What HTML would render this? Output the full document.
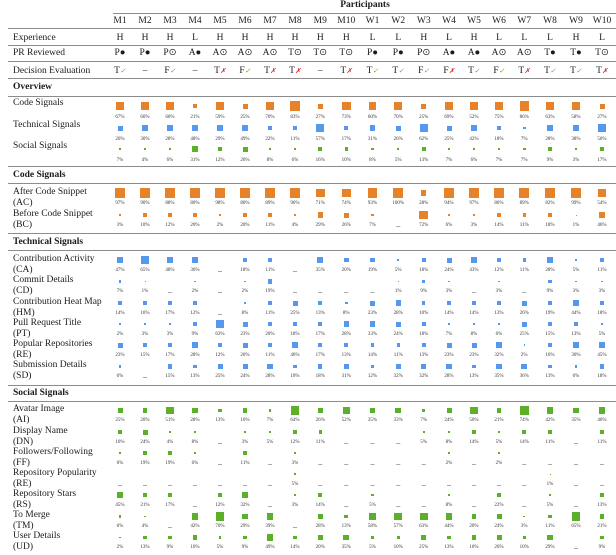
<!DOCTYPE html>
<html><head><meta charset="utf-8"><style>
body{margin:0;width:616px;height:555px;background:#fff;position:relative;overflow:hidden;font-family:"Liberation Serif",serif;color:#1a1a1a}
.h{position:absolute;height:1.3px;background:#8c8c8c;right:0;left:8px}
.r{position:absolute;left:0;width:616px;display:grid;grid-template-columns:107.5px repeat(8,25px) 25.5px 26.5px 26px 25.5px 25.5px 25px 25px 25px 25.5px 26px 26px 26px}
.s{height:14px;line-height:14px;font-size:9.5px;text-align:center}
.s>span:first-child{text-align:left;padding-left:13px}
.sec{position:absolute;left:13px;font-weight:bold;font-size:9.5px;line-height:14px}
.d>span{padding-left:13px;font-size:9.5px;line-height:11px;white-space:nowrap}
.d b{display:grid;grid-template-rows:13px 8px;justify-items:center;align-items:center;font-weight:normal;font-size:5px;line-height:8px;color:#333}
.d b:has(i:not([style])){font-size:8px;line-height:4px;padding-bottom:2px}
.d i{display:block;width:calc(var(--s,0px)*0.91);height:calc(var(--s,0px)*0.91)}
.o i{background:#e5822a}.bl i{background:#5599ee}.g i{background:#5daf2a}
.ov b{grid-template-rows:16px 8px}
.ck{color:#5daf2a;font-size:7px}.x{color:#e02020;font-size:7px}
</style></head><body>
<div style="position:absolute;left:0;width:616px;top:0;text-align:center;padding-left:114px;box-sizing:border-box;font-weight:bold;font-size:9.5px;line-height:11px">Participants</div>
<div class="h" style="top:13px;left:113px"></div>
<div class="r s" style="top:14px"><span></span><span>M1</span><span>M2</span><span>M3</span><span>M4</span><span>M5</span><span>M6</span><span>M7</span><span>M8</span><span>M9</span><span>M10</span><span>W1</span><span>W2</span><span>W3</span><span>W4</span><span>W5</span><span>W6</span><span>W7</span><span>W8</span><span>W9</span><span>W10</span></div>
<div class="h" style="top:28px"></div>
<div class="r s" style="top:31px"><span>Experience</span><span>H</span><span>H</span><span>H</span><span>L</span><span>H</span><span>H</span><span>H</span><span>H</span><span>H</span><span>H</span><span>L</span><span>L</span><span>H</span><span>L</span><span>H</span><span>L</span><span>L</span><span>L</span><span>H</span><span>L</span></div>
<div class="h" style="top:45px"></div>
<div class="r s" style="top:46px"><span>PR Reviewed</span><span>P●</span><span>P●</span><span>P⊙</span><span>A●</span><span>A⊙</span><span>A⊙</span><span>A⊙</span><span>T⊙</span><span>T⊙</span><span>T⊙</span><span>P●</span><span>P●</span><span>P⊙</span><span>A●</span><span>A●</span><span>A⊙</span><span>A⊙</span><span>T●</span><span>T●</span><span>T⊙</span></div>
<div class="h" style="top:61px"></div>
<div class="r s" style="top:64px"><span>Decision Evaluation</span><span>T<em class="ck">✓</em></span><span>–</span><span>F<em class="ck">✓</em></span><span>–</span><span>T<em class="x">✗</em></span><span>F<em class="ck">✓</em></span><span>T<em class="x">✗</em></span><span>T<em class="x">✗</em></span><span>–</span><span>T<em class="x">✗</em></span><span>T<em class="ck">✓</em></span><span>T<em class="ck">✓</em></span><span>F<em class="ck">✓</em></span><span>F<em class="x">✗</em></span><span>T<em class="ck">✓</em></span><span>F<em class="ck">✓</em></span><span>T<em class="x">✗</em></span><span>T<em class="ck">✓</em></span><span>T<em class="ck">✓</em></span><span>T<em class="x">✗</em></span></div>
<div class="h" style="top:78px"></div>
<div class="sec" style="top:80px">Overview</div>
<div class="h" style="top:96px"></div>

<div class="r d o ov" style="top:98px"><span>Code Signals</span><b><i style="--s:9px"></i>67%</b><b><i style="--s:9px"></i>66%</b><b><i style="--s:9px"></i>66%</b><b><i style="--s:5px"></i>21%</b><b><i style="--s:8.5px"></i>59%</b><b><i style="--s:5.5px"></i>25%</b><b><i style="--s:9px"></i>70%</b><b><i style="--s:10px"></i>83%</b><b><i style="--s:5.5px"></i>27%</b><b><i style="--s:9.5px"></i>73%</b><b><i style="--s:8.5px"></i>60%</b><b><i style="--s:9px"></i>70%</b><b><i style="--s:5.5px"></i>25%</b><b><i style="--s:9px"></i>69%</b><b><i style="--s:8px"></i>52%</b><b><i style="--s:9.5px"></i>75%</b><b><i style="--s:10px"></i>86%</b><b><i style="--s:8.5px"></i>63%</b><b><i style="--s:8.5px"></i>58%</b><b><i style="--s:5.5px"></i>27%</b></div>
<div class="r d bl ov" style="top:120px"><span>Technical Signals</span><b><i style="--s:5.5px"></i>26%</b><b><i style="--s:6px"></i>30%</b><b><i style="--s:6px"></i>28%</b><b><i style="--s:7.5px"></i>48%</b><b><i style="--s:6px"></i>29%</b><b><i style="--s:7.5px"></i>49%</b><b><i style="--s:5px"></i>22%</b><b><i style="--s:3.5px"></i>11%</b><b><i style="--s:8.5px"></i>57%</b><b><i style="--s:4.5px"></i>17%</b><b><i style="--s:6px"></i>31%</b><b><i style="--s:5.5px"></i>26%</b><b><i style="--s:8.5px"></i>62%</b><b><i style="--s:5.5px"></i>25%</b><b><i style="--s:7px"></i>42%</b><b><i style="--s:4.5px"></i>18%</b><b><i style="--s:3px"></i>7%</b><b><i style="--s:6px"></i>28%</b><b><i style="--s:7px"></i>38%</b><b><i style="--s:8px"></i>56%</b></div>
<div class="r d g ov" style="top:141px"><span>Social Signals</span><b><i style="--s:3px"></i>7%</b><b><i style="--s:2px"></i>4%</b><b><i style="--s:2.5px"></i>6%</b><b><i style="--s:6px"></i>31%</b><b><i style="--s:4px"></i>12%</b><b><i style="--s:5.5px"></i>26%</b><b><i style="--s:3px"></i>8%</b><b><i style="--s:2.5px"></i>6%</b><b><i style="--s:4.5px"></i>16%</b><b><i style="--s:3.5px"></i>10%</b><b><i style="--s:3px"></i>8%</b><b><i style="--s:2.5px"></i>5%</b><b><i style="--s:4px"></i>13%</b><b><i style="--s:3px"></i>7%</b><b><i style="--s:2.5px"></i>6%</b><b><i style="--s:3px"></i>7%</b><b><i style="--s:3px"></i>7%</b><b><i style="--s:3.5px"></i>9%</b><b><i style="--s:2px"></i>3%</b><b><i style="--s:4.5px"></i>17%</b></div>

<div class="h" style="top:166px"></div>
<div class="sec" style="top:168px">Code Signals</div>
<div class="h" style="top:183px"></div>
<div class="r d o" style="top:186.5px"><span>After Code Snippet<br>(AC)</span><b><i style="--s:11px"></i>97%</b><b><i style="--s:10.5px"></i>90%</b><b><i style="--s:10.5px"></i>88%</b><b><i style="--s:10px"></i>80%</b><b><i style="--s:11px"></i>98%</b><b><i style="--s:10px"></i>80%</b><b><i style="--s:10.5px"></i>89%</b><b><i style="--s:11px"></i>96%</b><b><i style="--s:9.5px"></i>71%</b><b><i style="--s:9.5px"></i>74%</b><b><i style="--s:10.5px"></i>93%</b><b><i style="--s:11px"></i>100%</b><b><i style="--s:6px"></i>28%</b><b><i style="--s:10.5px"></i>94%</b><b><i style="--s:11px"></i>97%</b><b><i style="--s:10px"></i>86%</b><b><i style="--s:10.5px"></i>89%</b><b><i style="--s:10px"></i>82%</b><b><i style="--s:11px"></i>99%</b><b><i style="--s:8px"></i>54%</b></div>
<div class="r d o" style="top:208.5px"><span>Before Code Snippet<br>(BC)</span><b><i style="--s:2px"></i>3%</b><b><i style="--s:3.5px"></i>10%</b><b><i style="--s:4px"></i>12%</b><b><i style="--s:5px"></i>20%</b><b><i style="--s:1.5px"></i>2%</b><b><i style="--s:5px"></i>20%</b><b><i style="--s:3.5px"></i>11%</b><b><i style="--s:2px"></i>4%</b><b><i style="--s:6px"></i>29%</b><b><i style="--s:5.5px"></i>26%</b><b><i style="--s:3px"></i>7%</b><b><i></i>–</b><b><i style="--s:9.5px"></i>72%</b><b><i style="--s:2.5px"></i>6%</b><b><i style="--s:2px"></i>3%</b><b><i style="--s:4px"></i>14%</b><b><i style="--s:3.5px"></i>11%</b><b><i style="--s:4.5px"></i>18%</b><b><i style="--s:1px"></i>1%</b><b><i style="--s:7.5px"></i>46%</b></div>

<div class="h" style="top:233px"></div>
<div class="sec" style="top:235px">Technical Signals</div>
<div class="h" style="top:250px"></div>
<div class="r d bl" style="top:253.5px"><span>Contribution Activity<br>(CA)</span><b><i style="--s:7.5px"></i>47%</b><b><i style="--s:9px"></i>65%</b><b><i style="--s:7.5px"></i>48%</b><b><i style="--s:6.5px"></i>36%</b><b><i></i>–</b><b><i style="--s:4.5px"></i>18%</b><b><i style="--s:3.5px"></i>11%</b><b><i></i>–</b><b><i style="--s:6.5px"></i>35%</b><b><i style="--s:5px"></i>20%</b><b><i style="--s:5px"></i>19%</b><b><i style="--s:2.5px"></i>5%</b><b><i style="--s:4.5px"></i>18%</b><b><i style="--s:5.5px"></i>24%</b><b><i style="--s:7px"></i>43%</b><b><i style="--s:4px"></i>12%</b><b><i style="--s:3.5px"></i>11%</b><b><i style="--s:6px"></i>28%</b><b><i style="--s:2.5px"></i>5%</b><b><i style="--s:3.5px"></i>11%</b></div>
<div class="r d bl" style="top:275px"><span>Commit Details<br>(CD)</span><b><i style="--s:3px"></i>7%</b><b><i style="--s:1px"></i>1%</b><b><i></i>–</b><b><i style="--s:1.5px"></i>2%</b><b><i></i>–</b><b><i style="--s:1.5px"></i>2%</b><b><i style="--s:5px"></i>19%</b><b><i></i>–</b><b><i></i>–</b><b><i></i>–</b><b><i></i>–</b><b><i style="--s:1px"></i>1%</b><b><i style="--s:3.5px"></i>9%</b><b><i style="--s:2px"></i>3%</b><b><i></i>–</b><b><i style="--s:2px"></i>3%</b><b><i></i>–</b><b><i style="--s:3.5px"></i>9%</b><b><i style="--s:2px"></i>3%</b><b><i style="--s:2px"></i>3%</b></div>
<div class="r d bl" style="top:296.5px"><span>Contribution Heat Map<br>(HM)</span><b><i style="--s:4px"></i>14%</b><b><i style="--s:4.5px"></i>16%</b><b><i style="--s:4.5px"></i>17%</b><b><i style="--s:4px"></i>12%</b><b><i></i>–</b><b><i style="--s:3px"></i>8%</b><b><i style="--s:3.5px"></i>11%</b><b><i style="--s:5.5px"></i>25%</b><b><i style="--s:4px"></i>13%</b><b><i style="--s:3px"></i>8%</b><b><i style="--s:5.5px"></i>23%</b><b><i style="--s:6px"></i>28%</b><b><i style="--s:3.5px"></i>10%</b><b><i style="--s:4px"></i>14%</b><b><i style="--s:4px"></i>14%</b><b><i style="--s:4px"></i>13%</b><b><i style="--s:5.5px"></i>26%</b><b><i style="--s:5px"></i>19%</b><b><i style="--s:7.5px"></i>44%</b><b><i style="--s:4.5px"></i>18%</b></div>
<div class="r d bl" style="top:317.5px"><span>Pull Request Title<br>(PT)</span><b><i style="--s:1.5px"></i>2%</b><b><i style="--s:2px"></i>3%</b><b><i style="--s:2px"></i>3%</b><b><i style="--s:3.5px"></i>9%</b><b><i style="--s:8.5px"></i>63%</b><b><i style="--s:5.5px"></i>23%</b><b><i style="--s:5px"></i>20%</b><b><i style="--s:4.5px"></i>18%</b><b><i style="--s:4.5px"></i>17%</b><b><i style="--s:6px"></i>28%</b><b><i style="--s:6.5px"></i>33%</b><b><i style="--s:5.5px"></i>24%</b><b><i style="--s:4.5px"></i>18%</b><b><i style="--s:3px"></i>7%</b><b><i style="--s:3px"></i>8%</b><b><i style="--s:2.5px"></i>6%</b><b><i style="--s:5.5px"></i>25%</b><b><i style="--s:4.5px"></i>15%</b><b><i style="--s:4px"></i>13%</b><b><i style="--s:2.5px"></i>5%</b></div>
<div class="r d bl" style="top:338.5px"><span>Popular Repositories<br>(RE)</span><b><i style="--s:5.5px"></i>23%</b><b><i style="--s:4.5px"></i>15%</b><b><i style="--s:4.5px"></i>17%</b><b><i style="--s:6px"></i>28%</b><b><i style="--s:4px"></i>12%</b><b><i style="--s:5.5px"></i>26%</b><b><i style="--s:3.5px"></i>11%</b><b><i style="--s:7.5px"></i>46%</b><b><i style="--s:4.5px"></i>17%</b><b><i style="--s:4px"></i>13%</b><b><i style="--s:4px"></i>14%</b><b><i style="--s:3.5px"></i>11%</b><b><i style="--s:4px"></i>13%</b><b><i style="--s:5.5px"></i>23%</b><b><i style="--s:5.5px"></i>23%</b><b><i style="--s:6px"></i>32%</b><b><i style="--s:1.5px"></i>2%</b><b><i style="--s:4.5px"></i>16%</b><b><i style="--s:6px"></i>30%</b><b><i style="--s:7.5px"></i>45%</b></div>
<div class="r d bl" style="top:360px"><span>Submission Details<br>(SD)</span><b><i style="--s:2.5px"></i>6%</b><b><i></i>–</b><b><i style="--s:4.5px"></i>15%</b><b><i style="--s:4px"></i>13%</b><b><i style="--s:5.5px"></i>25%</b><b><i style="--s:5.5px"></i>24%</b><b><i style="--s:6px"></i>28%</b><b><i style="--s:3.5px"></i>10%</b><b><i style="--s:4.5px"></i>18%</b><b><i style="--s:6px"></i>31%</b><b><i style="--s:4px"></i>12%</b><b><i style="--s:6px"></i>32%</b><b><i style="--s:6px"></i>32%</b><b><i style="--s:6px"></i>28%</b><b><i style="--s:4px"></i>13%</b><b><i style="--s:6.5px"></i>35%</b><b><i style="--s:6.5px"></i>36%</b><b><i style="--s:4px"></i>13%</b><b><i style="--s:2.5px"></i>6%</b><b><i style="--s:4.5px"></i>18%</b></div>

<div class="h" style="top:385px"></div>
<div class="sec" style="top:386px">Social Signals</div>
<div class="h" style="top:401px"></div>
<div class="r d g" style="top:404px"><span>Avatar Image<br>(AI)</span><b><i style="--s:5.5px"></i>25%</b><b><i style="--s:5px"></i>20%</b><b><i style="--s:8px"></i>51%</b><b><i style="--s:6px"></i>28%</b><b><i style="--s:4px"></i>13%</b><b><i style="--s:4.5px"></i>16%</b><b><i style="--s:3px"></i>7%</b><b><i style="--s:9px"></i>64%</b><b><i style="--s:5.5px"></i>26%</b><b><i style="--s:8px"></i>52%</b><b><i style="--s:6.5px"></i>35%</b><b><i style="--s:6.5px"></i>33%</b><b><i style="--s:3px"></i>7%</b><b><i style="--s:5.5px"></i>24%</b><b><i style="--s:8px"></i>50%</b><b><i style="--s:5px"></i>21%</b><b><i style="--s:9.5px"></i>74%</b><b><i style="--s:7px"></i>42%</b><b><i style="--s:6.5px"></i>35%</b><b><i style="--s:7.5px"></i>46%</b></div>
<div class="r d g" style="top:425.5px"><span>Display Name<br>(DN)</span><b><i style="--s:4.5px"></i>16%</b><b><i style="--s:5.5px"></i>24%</b><b><i style="--s:2px"></i>4%</b><b><i style="--s:3px"></i>8%</b><b><i></i>–</b><b><i style="--s:2px"></i>3%</b><b><i style="--s:2.5px"></i>5%</b><b><i style="--s:4px"></i>12%</b><b><i style="--s:3.5px"></i>11%</b><b><i></i>–</b><b><i></i>–</b><b><i></i>–</b><b><i style="--s:2.5px"></i>5%</b><b><i style="--s:3px"></i>8%</b><b><i style="--s:4px"></i>14%</b><b><i style="--s:2.5px"></i>5%</b><b><i style="--s:4px"></i>14%</b><b><i style="--s:3.5px"></i>11%</b><b><i></i>–</b><b><i style="--s:3.5px"></i>11%</b></div>
<div class="r d g" style="top:446.5px"><span>Followers/Following<br>(FF)</span><b><i style="--s:2.5px"></i>6%</b><b><i style="--s:5px"></i>19%</b><b><i style="--s:5px"></i>19%</b><b><i style="--s:2.5px"></i>6%</b><b><i></i>–</b><b><i style="--s:3.5px"></i>11%</b><b><i></i>–</b><b><i style="--s:2px"></i>3%</b><b><i></i>–</b><b><i></i>–</b><b><i></i>–</b><b><i></i>–</b><b><i></i>–</b><b><i style="--s:1.5px"></i>2%</b><b><i></i>–</b><b><i style="--s:1.5px"></i>2%</b><b><i></i>–</b><b><i></i>–</b><b><i></i>–</b><b><i></i>–</b></div>
<div class="r d g" style="top:467.5px"><span>Repository Popularity<br>(RE)</span><b><i></i>–</b><b><i></i>–</b><b><i></i>–</b><b><i></i>–</b><b><i></i>–</b><b><i></i>–</b><b><i></i>–</b><b><i style="--s:2.5px"></i>5%</b><b><i></i>–</b><b><i></i>–</b><b><i></i>–</b><b><i></i>–</b><b><i></i>–</b><b><i></i>–</b><b><i></i>–</b><b><i></i>–</b><b><i></i>–</b><b><i style="--s:1px"></i>1%</b><b><i></i>–</b><b><i></i>–</b></div>
<div class="r d g" style="top:488.5px"><span>Repository Stars<br>(RS)</span><b><i style="--s:7.5px"></i>45%</b><b><i style="--s:5px"></i>21%</b><b><i style="--s:4.5px"></i>17%</b><b><i></i>–</b><b><i style="--s:4px"></i>12%</b><b><i style="--s:6px"></i>32%</b><b><i></i>–</b><b><i style="--s:2px"></i>3%</b><b><i style="--s:4px"></i>14%</b><b><i></i>–</b><b><i style="--s:2.5px"></i>5%</b><b><i></i>–</b><b><i></i>–</b><b><i style="--s:3px"></i>8%</b><b><i></i>–</b><b><i style="--s:5px"></i>22%</b><b><i></i>–</b><b><i style="--s:2.5px"></i>5%</b><b><i></i>–</b><b><i style="--s:4px"></i>13%</b></div>
<div class="r d g" style="top:510px"><span>To Merge<br>(TM)</span><b><i style="--s:2.5px"></i>6%</b><b><i style="--s:2px"></i>4%</b><b><i></i>–</b><b><i style="--s:7px"></i>42%</b><b><i style="--s:9px"></i>70%</b><b><i style="--s:6px"></i>29%</b><b><i style="--s:7px"></i>39%</b><b><i></i>–</b><b><i style="--s:6px"></i>28%</b><b><i style="--s:4px"></i>13%</b><b><i style="--s:8.5px"></i>58%</b><b><i style="--s:8.5px"></i>57%</b><b><i style="--s:8.5px"></i>63%</b><b><i style="--s:7.5px"></i>44%</b><b><i style="--s:5px"></i>20%</b><b><i style="--s:5.5px"></i>24%</b><b><i style="--s:2px"></i>3%</b><b><i style="--s:3.5px"></i>11%</b><b><i style="--s:9px"></i>65%</b><b><i style="--s:5px"></i>21%</b></div>
<div class="r d g" style="top:531px"><span>User Details<br>(UD)</span><b><i style="--s:1.5px"></i>2%</b><b><i style="--s:4px"></i>13%</b><b><i style="--s:3.5px"></i>9%</b><b><i style="--s:4.5px"></i>16%</b><b><i style="--s:2.5px"></i>5%</b><b><i style="--s:3.5px"></i>9%</b><b><i style="--s:7.5px"></i>49%</b><b><i style="--s:4px"></i>14%</b><b><i style="--s:5px"></i>20%</b><b><i style="--s:6.5px"></i>35%</b><b><i style="--s:2.5px"></i>5%</b><b><i style="--s:3.5px"></i>10%</b><b><i style="--s:5.5px"></i>25%</b><b><i style="--s:4px"></i>13%</b><b><i style="--s:4.5px"></i>16%</b><b><i style="--s:5.5px"></i>26%</b><b><i style="--s:3.5px"></i>10%</b><b><i style="--s:6px"></i>29%</b><b><i></i>–</b><b><i style="--s:3.5px"></i>9%</b></div>
</body></html>
